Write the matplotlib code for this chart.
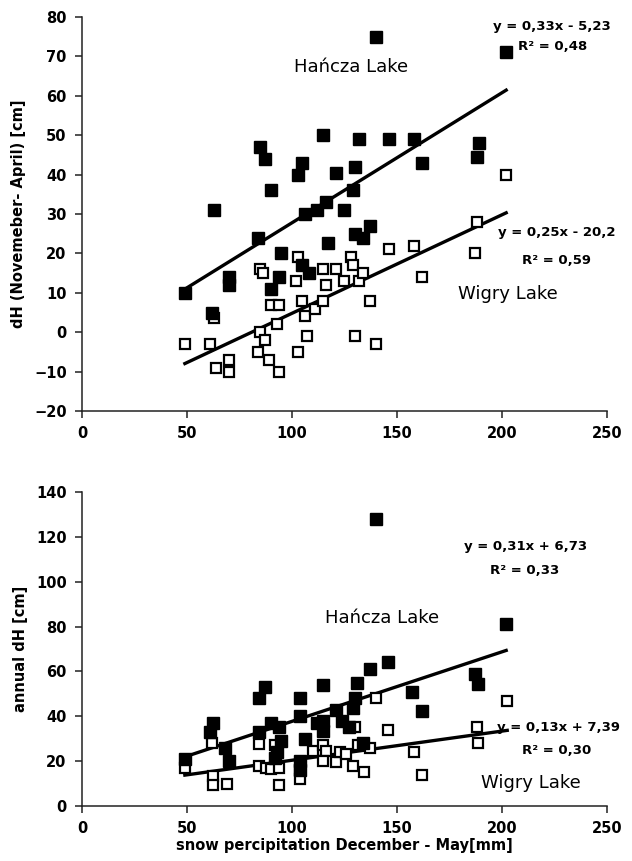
import matplotlib
matplotlib.use("Agg")
import matplotlib.pyplot as plt
import numpy as np

plt.rcParams["font.family"] = "DejaVu Sans"

# --- top panel: dH (November - April) vs snow precipitation ---
hancza_top_x = [49, 62, 63, 70, 70, 84, 85, 87, 90, 90, 94, 95, 103, 105, 105, 108, 106, 112,
                116, 115, 117, 121, 130, 129, 125, 132, 137, 130, 134, 140, 146, 158, 162,
                189, 188, 202]
hancza_top_y = [10, 5, 31, 14, 12, 24, 47, 44, 36, 11, 14, 20, 40, 43, 17, 15, 30, 31,
                33, 50, 22.6, 40.5, 42, 36, 31, 49, 27, 25, 24, 75, 49, 49, 43,
                48, 44.5, 71]
wigry_top_x = [49, 61, 63, 64, 70, 70, 84, 85, 87, 85, 86, 89, 90, 93, 94, 94, 102, 103, 103,
               105, 106, 107, 111, 115, 115, 116, 121, 125, 128, 129, 132, 134, 130, 137,
               140, 146, 158, 162, 187, 188, 202]
wigry_top_y = [-3, -3, 3.5, -9, -7, -10, -5, 0, -2, 16, 15, -7, 7, 2, 7, -10, 13, 19, -5,
               8, 4, -1, 6, 8, 16, 12, 16, 13, 19, 17, 13, 15, -1, 8,
               -3, 21, 22, 14, 20, 28, 40]

# --- bottom panel: annual dH vs snow precipitation ---
hancza_bot_x = [49, 61, 62.5, 68, 70, 84.5, 84.5, 87, 90, 94, 95, 93, 92, 104, 104, 106, 104,
                104, 112, 115, 115, 115, 121, 124, 127, 129, 130, 131, 134, 137, 140, 145.5,
                157, 162, 187, 188.6, 202]
hancza_bot_y = [21, 33, 37, 26, 20, 33, 48, 53, 37, 35, 29, 24, 21.6, 48, 40, 30, 20,
                16, 37, 54, 38, 33.5, 43, 38, 35, 43.6, 48, 55, 28, 61, 128, 64,
                51, 42.5, 59, 54.5, 81]
wigry_bot_x = [49, 62, 62.5, 62.5, 69, 84.5, 84.5, 87.5, 90, 94, 94, 92, 104, 104, 110, 115,
               116, 115, 121, 123, 125.5, 129, 130, 131.5, 134.5, 137, 140, 145.5, 158, 162,
               188, 188.5, 202.5]
wigry_bot_y = [17, 28, 13.5, 9.5, 10, 27.5, 18, 17, 16.5, 17, 9.5, 27, 16, 12, 24.5, 27,
               24.5, 20, 19.5, 24, 23, 18, 35, 27, 15, 26, 48, 34, 24, 14,
               35, 28, 47]

# trend equations as printed on the chart
fits = {
    "hancza_top": (0.33, -5.23),
    "wigry_top": (0.25, -20.2),
    "hancza_bot": (0.31, 6.73),
    "wigry_bot": (0.13, 7.39),
}

fig = plt.figure(figsize=(6.32, 8.61), dpi=100)
fig.set_facecolor("white")

ax1 = fig.add_axes([0.1297, 0.5226, 0.8307, 0.4577])
ax2 = fig.add_axes([0.1297, 0.0639, 0.8307, 0.3647])


def trend(ax, x, key):
    a, b = fits[key]
    xs = np.array([min(x), max(x)])
    ax.plot(xs, a * xs + b, color="black", lw=2.4, zorder=2)


def style(ax, ylim, yticks):
    ax.set_xlim(0, 250)
    ax.set_ylim(*ylim)
    ax.set_xticks([0, 50, 100, 150, 200, 250])
    ax.set_yticks(yticks)
    for s in ["top", "right"]:
        ax.spines[s].set_visible(False)
    for s in ["left", "bottom"]:
        ax.spines[s].set_linewidth(1.1)
        ax.spines[s].set_color("#222222")
    ax.tick_params(direction="out", length=5, width=1.1, color="#222222",
                   labelsize=10.5, pad=6)
    for lab in ax.get_xticklabels() + ax.get_yticklabels():
        lab.set_fontweight("bold")


for ax, hx, hy, wx, wy, hk, wk in [
    (ax1, hancza_top_x, hancza_top_y, wigry_top_x, wigry_top_y, "hancza_top", "wigry_top"),
    (ax2, hancza_bot_x, hancza_bot_y, wigry_bot_x, wigry_bot_y, "hancza_bot", "wigry_bot"),
]:
    ax.plot(wx, wy, "s", ms=7.5, mfc="white", mec="black", mew=1.6, zorder=3)
    ax.plot(hx, hy, "s", ms=8.5, color="black", zorder=4)
    trend(ax, hx, hk)
    trend(ax, wx, wk)

style(ax1, (-20, 80), np.arange(-20, 81, 10))
style(ax2, (0, 140), np.arange(0, 141, 20))

ax1.set_ylabel("dH (Novemeber- April) [cm]", fontsize=10.5, fontweight="bold", labelpad=6)
ax2.set_ylabel("annual dH [cm]", fontsize=10.5, fontweight="bold", labelpad=6)
ax2.set_xlabel("snow percipitation December - May[mm]", fontsize=10.5, fontweight="bold",
               labelpad=1)

eq = dict(fontsize=9.5, fontweight="bold", ha="center", va="center", clip_on=False, zorder=5)
lake = dict(fontsize=13, ha="center", va="center", zorder=5)

ax1.text(224, 77.6, "y = 0,33x - 5,23", **eq)
ax1.text(224, 72.5, "R² = 0,48", **eq)
ax1.text(128, 67.4, "Hańcza Lake", **lake)
ax1.text(226, 25.2, "y = 0,25x - 20,2", **eq)
ax1.text(226, 18.3, "R² = 0,59", **eq)
ax1.text(203, 9.7, "Wigry Lake", **lake)

ax2.text(211, 115.9, "y = 0,31x + 6,73", **eq)
ax2.text(211, 104.8, "R² = 0,33", **eq)
ax2.text(143, 83.7, "Hańcza Lake", **lake)
ax2.text(227, 34.8, "y = 0,13x + 7,39", **eq)
ax2.text(226, 24.7, "R² = 0,30", **eq)
ax2.text(214, 10.1, "Wigry Lake", **lake)

fig.savefig("out.png", dpi=100, facecolor="white")
